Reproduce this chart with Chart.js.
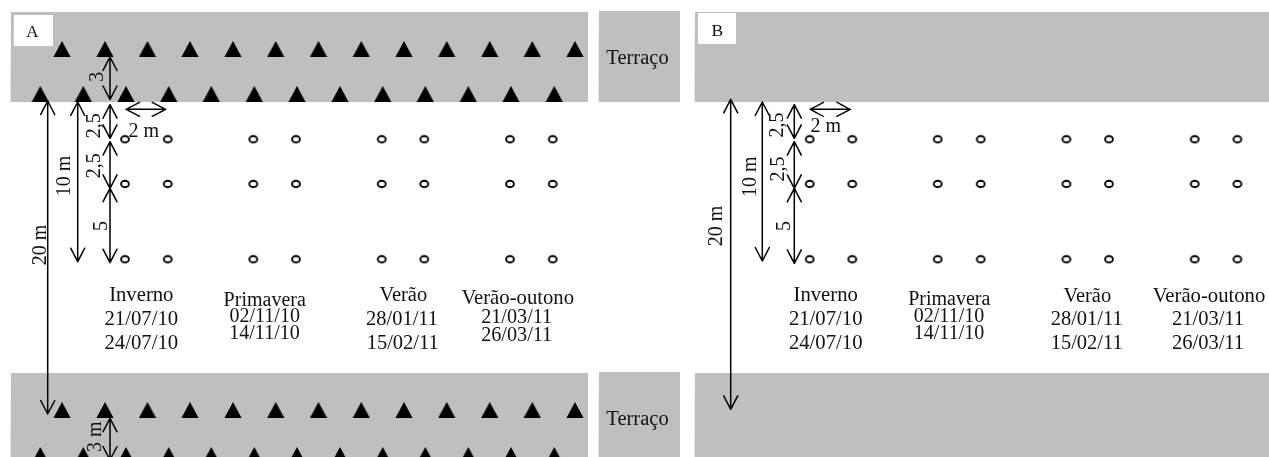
<!DOCTYPE html>
<html><head><meta charset="utf-8">
<style>html,body{margin:0;padding:0;background:#fff}canvas{display:block}</style>
<script src="https://cdn.jsdelivr.net/npm/chart.js@4"></script>
</head><body><canvas id="c" width="1269" height="457"></canvas>
<script>
// ---- values, in the diagram's own units ----
const treeXUpper = [62,105,147.5,190,233,275.7,318.5,361.3,404,446.7,489.7,532.3,575];
const treeXLower = [40.3,83.3,126,168.7,211.3,254.3,297,340,382.7,425.3,468.3,511,554.3];
const treeRowsUpper = [49,410];
const treeRowsLower = [94,455];
const samplesXA = [125,167.7,253.3,296,381.7,424.3,510,552.7];
const samplesXB = [809.7,852.3,937.7,980.7,1066.4,1109,1194.7,1237.4];
const samplesY = [139.3,184,259.3];
const seasons = ["Inverno","Primavera","Verão","Verão-outono"];
const dates = [["21/07/10","24/07/10"],["02/11/10","14/11/10"],["28/01/11","15/02/11"],["21/03/11","26/03/11"]];
const grayBands = [[11,12,588,102],[11,373,588,457],[599,11,680,102],[599,372,680,457],[695,12,1269,102],[695,373,1269,457]];
const whiteBoxes = [[14,15,53,46],[698,13,736,44]];
const arrows = [
 [47.7,101,47.7,414],[77.7,102,77.7,261.7],[110,57,110,99.5],[110,104.7,110,138.3],[110,141.7,110,188.3],[110,188.3,110,262.7],
 [126,109.3,165.7,109.3],[110,418.3,110,460],
 [730.7,99.3,730.7,409.3],[762.3,102,762.3,261],[794.3,104.7,794.3,138.3],[794.3,141.7,794.3,188.3],[794.3,188.3,794.3,263.3],
 [810,109.3,850.3,109.3]
];
// ---- text placement ----
const serif = '"Liberation Serif","Times New Roman",serif';
const labels = [
 ["A",32.3,36.7,17],["B",717.3,36,17.5],
 ["Terraço",637.5,64,20.5],["Terraço",637.5,425,20.5],
 ["2 m",143.7,136.7,20],["2 m",825.7,131.7,20],
 [seasons[0],141.3,300.7,20.7],[dates[0][0],141.3,325,20.7],[dates[0][1],141.3,349.3,20.7],
 [seasons[1],264.7,305.7,20],[dates[1][0],264.7,322.3,20],[dates[1][1],264.5,339,20],
 [seasons[2],403.3,300.7,20.5],[dates[2][0],402,325,20.5],[dates[2][1],402.7,349.3,20.5],
 [seasons[3],517.7,304,20.7],[dates[3][0],516.7,323.3,20.2],[dates[3][1],516.7,341,20.2],
 [seasons[0],825.7,300.7,20.7],[dates[0][0],825.7,325,20.7],[dates[0][1],825.7,349.3,20.7],
 [seasons[1],949.3,305.3,20],[dates[1][0],949,322,20],[dates[1][1],949,339,20],
 [seasons[2],1087.3,301.7,20.5],[dates[2][0],1086.7,325,20.5],[dates[2][1],1086.7,349,20.5],
 [seasons[3],1209,301.7,20.7],[dates[3][0],1208,325,20.5],[dates[3][1],1208,349,20.5]
];
const rotated = [
 ["3",103,76.7,20],["2,5",100,125.7,20],["2,5",100,165.8,20],["5",106.5,226,20],["10 m",70,176,20],["20 m",45.5,245,20],["3 m",101,436.7,20],
 ["2,5",782.7,125,20],["2,5",784,169,20],["5",790,226,20],["10 m",755.7,176.7,20],["20 m",721.7,226,20]
];

function sprite(w,h,draw){const s=document.createElement('canvas');s.width=w;s.height=h;draw(s.getContext('2d'));return s;}
const triangle = sprite(18,16,g=>{g.fillStyle='#000';g.beginPath();g.moveTo(9,0);g.lineTo(17.6,16);g.lineTo(0.4,16);g.closePath();g.fill();});
const ring = sprite(12,10,g=>{g.strokeStyle='#000';g.lineWidth=1.9;g.beginPath();g.ellipse(6,5,3.9,3.2,0,0,Math.PI*2);g.stroke();});

function cross(xs,ys){const o=[];ys.forEach(y=>xs.forEach(x=>o.push({x,y})));return o;}
function box(b){return [{x:b[0],y:b[1]},{x:b[2],y:b[1]},{x:b[2],y:b[3]},{x:b[0],y:b[3]},{x:b[0],y:b[1]}];}
function shape(b,color){return {type:'line',data:box(b),borderWidth:0,borderColor:color,backgroundColor:color,pointRadius:0,fill:'shape',tension:1e-6};}
function arrowPath(a){
  const [x1,y1,x2,y2]=a, L=Math.hypot(x2-x1,y2-y1), ux=(x2-x1)/L, uy=(y2-y1)/L, hl=13.5, hw=7;
  const wing=(tx,ty,s,n)=>({x:tx+s*ux*hl-n*uy*hw,y:ty+s*uy*hl+n*ux*hw});
  const t1={x:x1,y:y1}, t2={x:x2,y:y2};
  return [wing(x1,y1,1,1),t1,wing(x1,y1,1,-1),t1,t2,wing(x2,y2,-1,1),t2,wing(x2,y2,-1,-1)];
}
// Chart.js paints the first dataset last, so the list runs from top layer to bottom layer.
const datasets = [
  ...arrows.map(a=>({type:'line',data:arrowPath(a),borderColor:'#000',borderWidth:1.5,pointRadius:0,fill:false,tension:1e-6,borderJoinStyle:'round',borderCapStyle:'round'})),
  {type:'scatter',data:[...cross(samplesXA,samplesY),...cross(samplesXB,samplesY)],pointStyle:ring,pointRadius:5},
  {type:'scatter',data:[...cross(treeXUpper,treeRowsUpper),...cross(treeXLower,treeRowsLower)],pointStyle:triangle,pointRadius:9},
  ...whiteBoxes.map(b=>shape(b,'#ffffff')),
  ...grayBands.map(b=>shape(b,'#bfbfbf'))
];
const textPlugin = {id:'text',afterDatasetsDraw(ch){
  const g=ch.ctx,X=ch.scales.x,Y=ch.scales.y;
  g.save();g.fillStyle='#111';g.textBaseline='alphabetic';g.textAlign='center';
  labels.forEach(([t,x,y,s])=>{g.font=s+'px '+serif;g.fillText(t,X.getPixelForValue(x),Y.getPixelForValue(y));});
  rotated.forEach(([t,x,y,s])=>{g.save();g.translate(X.getPixelForValue(x),Y.getPixelForValue(y));g.rotate(-Math.PI/2);g.font=s+'px '+serif;g.fillText(t,0,0);g.restore();});
  g.restore();
}};
new Chart(document.getElementById('c'),{
  type:'scatter',
  data:{datasets},
  options:{
    responsive:false,animation:false,devicePixelRatio:1,
    layout:{padding:0,autoPadding:false},
    plugins:{legend:{display:false},tooltip:{enabled:false}},
    scales:{
      x:{type:'linear',min:0,max:1269,display:false},
      y:{type:'linear',min:0,max:457,reverse:true,display:false}
    }
  },
  plugins:[textPlugin]
});
</script></body></html>
